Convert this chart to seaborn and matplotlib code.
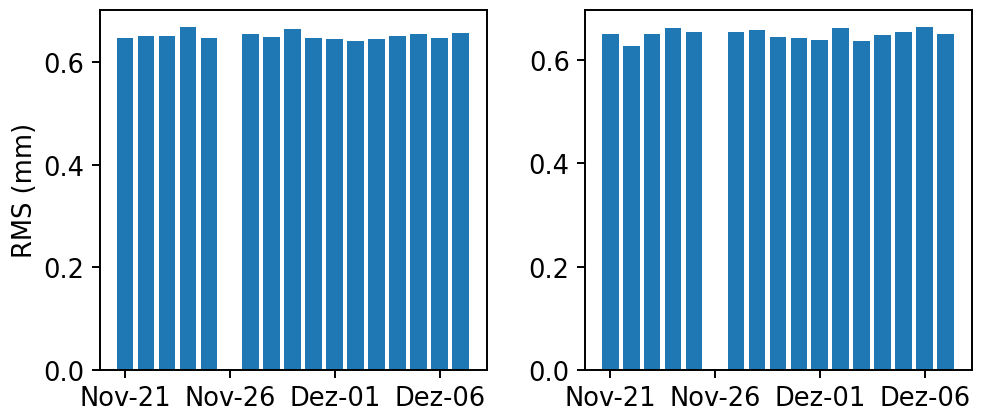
import matplotlib
matplotlib.use("Agg")
import matplotlib.pyplot as plt
import matplotlib.dates as mdates
from matplotlib.ticker import FuncFormatter
import pandas as pd
import seaborn as sns

# dias com medicao (26/nov sem dados)
datas = ["2021-11-21", "2021-11-22", "2021-11-23", "2021-11-24", "2021-11-25",
         "2021-11-27", "2021-11-28", "2021-11-29", "2021-11-30", "2021-12-01",
         "2021-12-02", "2021-12-03", "2021-12-04", "2021-12-05", "2021-12-06",
         "2021-12-07"]
rms_a = [0.647, 0.651, 0.651, 0.669, 0.647, 0.655, 0.649, 0.665,
         0.647, 0.645, 0.642, 0.645, 0.651, 0.655, 0.647, 0.657]
rms_b = [0.650, 0.627, 0.650, 0.662, 0.654, 0.654, 0.658, 0.644,
         0.643, 0.639, 0.662, 0.637, 0.648, 0.654, 0.664, 0.650]
ticks = ["2021-11-21", "2021-11-26", "2021-12-01", "2021-12-06"]
meses = {11: "Nov", 12: "Dez"}

fs = 18.5
sns.set_theme(style="ticks", rc={"font.size": fs, "axes.labelsize": fs,
                                 "xtick.labelsize": fs, "ytick.labelsize": fs,
                                 "axes.linewidth": 1.4, "text.color": "black",
                                 "axes.labelcolor": "black", "xtick.color": "black",
                                 "ytick.color": "black", "axes.edgecolor": "black"})
plt.rcParams['font.family'] = ['DejaVu Sans']

x = mdates.date2num(pd.to_datetime(datas))
df = pd.DataFrame({"x": x, "a": rms_a, "b": rms_b})

fig = plt.figure(figsize=(9.89, 4.14), dpi=100)
ax1 = fig.add_axes([0.101, 0.104, 0.391, 0.8696])
ax2 = fig.add_axes([0.5915, 0.104, 0.391, 0.8696])


def fmt(v, pos):
    d = mdates.num2date(v)
    return f"{meses[d.month]}-{d.day:02d}"


for ax, col in [(ax1, "a"), (ax2, "b")]:
    sns.barplot(data=df, x="x", y=col, ax=ax, native_scale=True,
                color="#1f77b4", saturation=1, width=0.8, linewidth=0)
    ax.set_xticks(mdates.date2num(pd.to_datetime(ticks)))
    ax.xaxis.set_major_formatter(FuncFormatter(fmt))
    ax.set_xlim(x[0] - 1.2, x[-1] + 1.24)
    ax.set_ylim(0, max(df[col]) * 1.05)
    ax.set_yticks([0.0, 0.2, 0.4, 0.6])
    ax.set_xlabel("")
    ax.set_ylabel("")
    for s in ax.spines.values():
        s.set_visible(True)
    ax.tick_params(length=6, width=1.4, pad=5)

ax1.set_ylabel("RMS (mm)")

fig.savefig("out.png", dpi=100)
